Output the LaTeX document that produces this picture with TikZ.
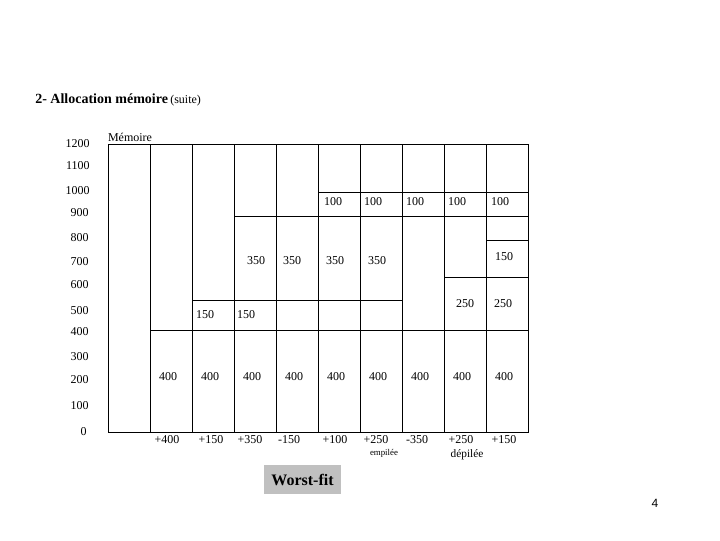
\documentclass[tikz,border=0pt]{standalone}
\usepackage{fontspec}
\setmainfont{Liberation Serif}
\newfontfamily\pagefont{Liberation Sans}
\usepackage{tikz}

\begin{document}
\begin{tikzpicture}[x=0.75pt,y=0.75pt,yscale=-1,xscale=1,
    axis/.style={anchor=east,inner sep=0.75pt,font=\fontsize{9}{10}\selectfont},
    cell/.style={inner sep=0.75pt,font=\fontsize{9}{10}\selectfont},
    op/.style={inner sep=0.75pt,font=\fontsize{9}{10}\selectfont},
    grid/.style={line width=0.75}]

\useasboundingbox (0,0) rectangle (720,540);

        % title
        \node [anchor=west,inner sep=0.75pt] (title) at (34,100) {\fontsize{10.5}{12}\selectfont\textbf{2- Allocation mémoire}\,{\fontsize{9}{10}\selectfont (suite)}};
        \node [cell] (memoire) at (130,137) {Mémoire};

        % axis
        \node [axis] (a1200) at (91,144) {1200};
        \node [axis] (a1100) at (91,166) {1100};
        \node [axis] (a1000) at (91,191) {1000};
        \node [axis] (a900) at (90,213) {900};
        \node [axis] (a800) at (90,238) {800};
        \node [axis] (a700) at (90,262) {700};
        \node [axis] (a600) at (90,285) {600};
        \node [axis] (a500) at (90,311) {500};
        \node [axis] (a400) at (90,332) {400};
        \node [axis] (a300) at (90,357) {300};
        \node [axis] (a200) at (90,380) {200};
        \node [axis] (a100) at (90,406) {100};
        \node [axis] (a0) at (88,432) {0};

        % memory columns
        \draw [grid] (108,144) rectangle (528,432) ;
        \draw [grid] (150,144) -- (150,432) ;
        \draw [grid] (192,144) -- (192,432) ;
        \draw [grid] (234,144) -- (234,432) ;
        \draw [grid] (276,144) -- (276,432) ;
        \draw [grid] (318,144) -- (318,432) ;
        \draw [grid] (360,144) -- (360,432) ;
        \draw [grid] (402,144) -- (402,432) ;
        \draw [grid] (444,144) -- (444,432) ;
        \draw [grid] (486,144) -- (486,432) ;
        \draw [grid] (150,330) -- (528,330) ;
        \draw [grid] (192,300) -- (402,300) ;
        \draw [grid] (234,216) -- (528,216) ;
        \draw [grid] (318,192) -- (528,192) ;
        \draw [grid] (486,240) -- (528,240) ;
        \draw [grid] (444,277) -- (528,277) ;

        % blocks
        \node [cell] (b400) at (168,377) {400};
        \node [cell] (c400) at (210,377) {400};
        \node [cell] (d400) at (252,377) {400};
        \node [cell] (e400) at (294,377) {400};
        \node [cell] (f400) at (336,377) {400};
        \node [cell] (g400) at (378,377) {400};
        \node [cell] (h400) at (420,377) {400};
        \node [cell] (i400) at (462,377) {400};
        \node [cell] (j400) at (504,377) {400};
        \node [cell] (c150) at (205,315) {150};
        \node [cell] (d150) at (246,315) {150};
        \node [cell] (d350) at (256,261) {350};
        \node [cell] (e350) at (292,261) {350};
        \node [cell] (f350) at (335,261) {350};
        \node [cell] (g350) at (377,261) {350};
        \node [cell] (f100) at (333,202) {100};
        \node [cell] (g100) at (373,202) {100};
        \node [cell] (h100) at (415,202) {100};
        \node [cell] (i100) at (457,202) {100};
        \node [cell] (j100) at (500,202) {100};
        \node [cell] (j150) at (504,257) {150};
        \node [cell] (i250) at (465,304) {250};
        \node [cell] (j250) at (503,304) {250};

        % operations
        \node [op] (opb) at (167,440) {+400};
        \node [op] (opc) at (211,440) {+150};
        \node [op] (opd) at (250,440) {+350};
        \node [op] (ope) at (289,440) {-150};
        \node [op] (opf) at (335,440) {+100};
        \node [op] (opg) at (376,440) {+250};
        \node [op] (oph) at (417,440) {-350};
        \node [op] (opi) at (461,440) {+250};
        \node [op] (opj) at (504,440) {+150};
        \node [inner sep=0.75pt,font=\fontsize{6.6}{7}\selectfont] (empilee) at (384,453) {empilée};
        \node [inner sep=0.75pt,font=\fontsize{8.5}{9}\selectfont] (depilee) at (467,455) {dépilée};

        \node [fill={rgb, 255:red, 192; green, 192; blue, 192 },minimum width=57.75pt,minimum height=21.75pt,inner sep=0pt,font=\fontsize{12}{14}\selectfont\bfseries] (worst) at (302.5,479.5) {Worst-fit};
        \node [inner sep=0.75pt,font=\pagefont\fontsize{9}{10}\selectfont] (page) at (655,503) {4};
    \end{tikzpicture}
\end{document}
